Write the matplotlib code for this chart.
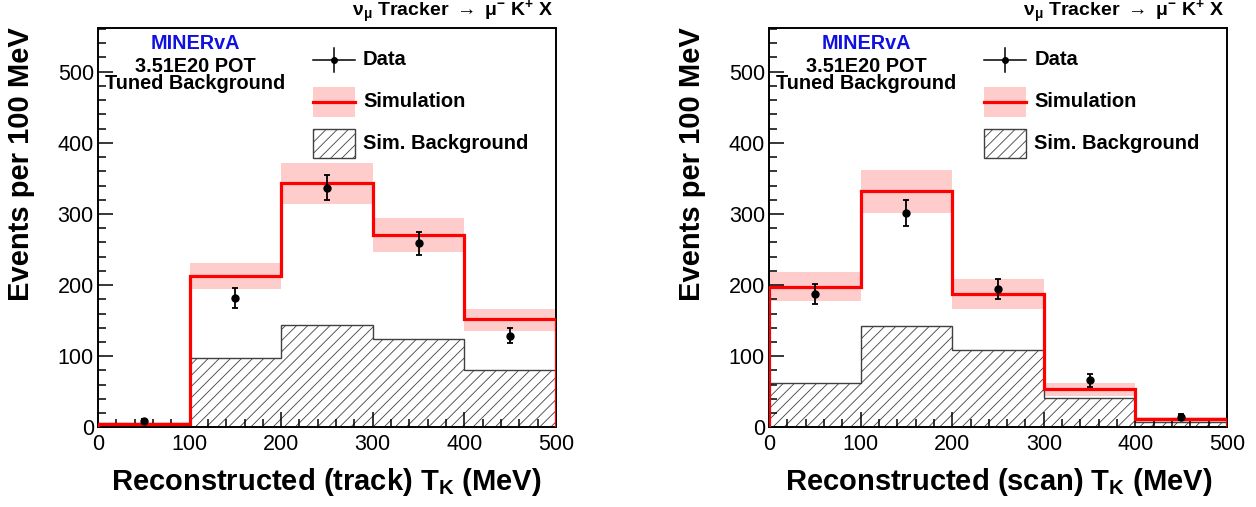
import numpy as np
import matplotlib
matplotlib.use("Agg")
import matplotlib.pyplot as plt
from matplotlib.ticker import MultipleLocator

plt.rcParams['font.family'] = ['Liberation Sans', 'DejaVu Sans']
plt.rcParams['mathtext.fontset'] = 'custom'
plt.rcParams['mathtext.rm'] = 'Liberation Sans'
plt.rcParams['mathtext.it'] = 'Liberation Sans:italic'
plt.rcParams['mathtext.bf'] = 'Liberation Sans:bold'
plt.rcParams['mathtext.default'] = 'regular'
plt.rcParams['hatch.linewidth'] = 0.6

# Bin edges (MeV)
edges = [0, 100, 200, 300, 400, 500]

# Left panel: track-based T_K
track_sim = [5, 213, 343, 271, 152]
track_band_lo = [3, 194, 314, 247, 136]
track_band_hi = [7, 231, 372, 294, 166]
track_bkg = [3, 98, 144, 124, 81]
track_data = [9, 182, 337, 259, 129]
track_err = [3, 14, 18, 16, 11]

# Right panel: scan-based T_K
scan_sim = [198, 332, 187, 54, 12]
scan_band_lo = [178, 302, 166, 44, 7]
scan_band_hi = [219, 362, 209, 62, 15]
scan_bkg = [63, 143, 109, 41, 8]
scan_data = [187, 301, 194, 66, 15]
scan_err = [14, 18, 14, 9, 4]

PINK = '#ffcccc'
HATCH_COL = '#404040'


def draw_panel(ax, sim, lo, hi, bkg, data, err, xlabel):
    e = np.array(edges, dtype=float)
    centers = 0.5 * (e[:-1] + e[1:])
    widths = np.diff(e)
    lo = np.array(lo, dtype=float)
    hi = np.array(hi, dtype=float)

    # simulation error band
    ax.bar(centers, hi - lo, bottom=lo, width=widths, color=PINK,
           linewidth=0, zorder=1)
    # hatched background
    ax.stairs(bkg, e, fill=True, facecolor='none', edgecolor=HATCH_COL,
              hatch='///', linewidth=1.0, zorder=1.5)
    # simulation line
    ax.stairs(sim, e, color='red', linewidth=2.3, zorder=3, baseline=0)
    # data
    ax.errorbar(centers, data, yerr=err, fmt='o', color='black', ms=5,
                elinewidth=1.3, capsize=2, capthick=1.3, zorder=4)

    ax.set_xlim(0, 500)
    ax.set_ylim(0, 562)
    ax.xaxis.set_major_locator(MultipleLocator(100))
    ax.xaxis.set_minor_locator(MultipleLocator(20))
    ax.yaxis.set_major_locator(MultipleLocator(100))
    ax.yaxis.set_minor_locator(MultipleLocator(20))
    ax.tick_params(which='both', direction='in', top=False, right=False,
                   labelsize=15.5, width=1.1)
    ax.tick_params(which='major', length=11)
    ax.tick_params(which='minor', length=6)
    ax.tick_params(axis='x', pad=5)
    ax.tick_params(axis='y', pad=3)
    for s in ax.spines.values():
        s.set_linewidth(1.4)

    ax.text(0.969, -0.157, xlabel, transform=ax.transAxes, ha='right',
            va='baseline', fontsize=21, fontweight='bold')
    ax.text(-0.168, 1.0, 'Events per 100 MeV', transform=ax.transAxes,
            rotation=90, ha='center', va='top', fontsize=21,
            fontweight='bold')

    # annotations
    ax.text(0.212, 0.959, 'MINERvA', transform=ax.transAxes, ha='center',
            va='center', fontsize=14.3, fontweight='bold', color='#1010e0')
    ax.text(0.212, 0.902, '3.51E20 POT', transform=ax.transAxes,
            ha='center', va='center', fontsize=14.3, fontweight='bold')
    ax.text(0.212, 0.859, 'Tuned Background', transform=ax.transAxes,
            ha='center', va='center', fontsize=14.3, fontweight='bold')

    # legend, drawn by hand in ROOT style
    x0, x1, xt = 0.469, 0.561, 0.579
    xm = 0.5 * (x0 + x1)
    ry = [0.919, 0.814, 0.710]
    bh = 0.073
    tr = ax.transAxes
    ax.plot([x0, x1], [ry[0], ry[0]], color='black', lw=1.1, transform=tr)
    ax.plot([xm, xm], [ry[0] - 0.03, ry[0] + 0.03], color='black', lw=1.1,
            transform=tr)
    ax.plot([xm], [ry[0]], 'o', color='black', ms=4, transform=tr)
    ax.add_patch(plt.Rectangle((x0, ry[1] - bh / 2), x1 - x0, bh,
                               transform=tr, color=PINK, lw=0))
    ax.plot([x0, x1], [ry[1], ry[1]], color='red', lw=2.3, transform=tr)
    ax.add_patch(plt.Rectangle((x0, ry[2] - bh / 2), x1 - x0, bh,
                               transform=tr, facecolor='none',
                               edgecolor=HATCH_COL, hatch='///', lw=1.0))
    for y, lab in zip(ry, ['Data', 'Simulation', 'Sim. Background']):
        ax.text(xt, y, lab, transform=tr, ha='left', va='center',
                fontsize=14.5, fontweight='bold')

    ax.text(0.994, 1.028,
            r'ν$_{μ}$ Tracker $\rightarrow$ μ$^{-}$ K$^{+}$ X',
            transform=tr, ha='right', va='baseline', fontsize=14,
            fontweight='bold')


fig = plt.figure(figsize=(12.56, 5.07), dpi=100)
ax1 = fig.add_axes([0.078, 0.157, 0.3646, 0.7886])
ax2 = fig.add_axes([0.6123, 0.157, 0.3646, 0.7886])

draw_panel(ax1, track_sim, track_band_lo, track_band_hi, track_bkg,
           track_data, track_err, r'Reconstructed (track) T$_{K}$ (MeV)')
draw_panel(ax2, scan_sim, scan_band_lo, scan_band_hi, scan_bkg,
           scan_data, scan_err, r'Reconstructed (scan) T$_{K}$ (MeV)')

fig.savefig('out.png', dpi=100)
